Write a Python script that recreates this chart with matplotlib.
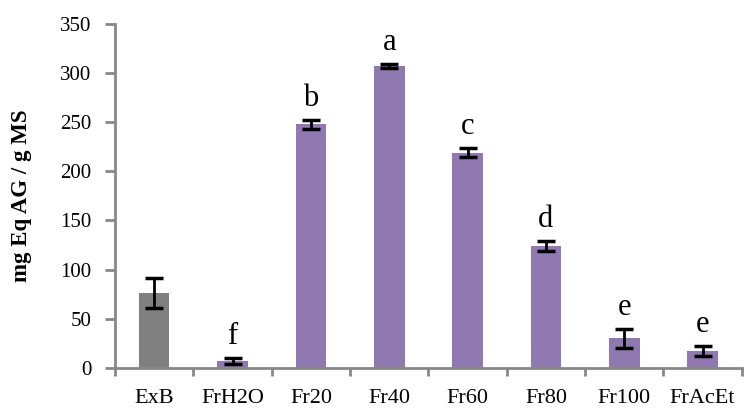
import matplotlib.pyplot as plt
import numpy as np

categories = ['ExB', 'FrH2O', 'Fr20', 'Fr40', 'Fr60', 'Fr80', 'Fr100', 'FrAcEt']
values = [76, 7, 248, 307, 219, 124, 30, 17]
errors = [15, 3, 4.5, 2, 4.5, 5.5, 10, 5]
letters = ['', 'f', 'b', 'a', 'c', 'd', 'e', 'e']
colors = ['#808080'] + ['#9078B0'] * 7

plt.rcParams['font.family'] = ['Liberation Serif', 'DejaVu Serif']

fig = plt.figure(figsize=(7.47, 4.12), dpi=100)
ax = fig.add_axes([0.154, 0.107, 0.839, 0.835])

pos = np.arange(len(categories))
ax.bar(pos, values, 0.39, color=colors, zorder=2)
ax.errorbar(pos, values, yerr=errors, fmt='none', ecolor='black',
            elinewidth=2, capsize=6.5, capthick=2.5, zorder=3)

for p, v, e, t in zip(pos, values, errors, letters):
    if t:
        ax.annotate(t, (p, v + e), xytext=(0, 10), textcoords='offset points',
                    ha='center', va='baseline', fontsize=22)

ax.set_xlim(-0.5, len(categories) - 0.5)
ax.set_ylim(0, 350)
ax.set_yticks(range(0, 351, 50))
ax.set_xticks(pos)
ax.set_xticklabels(categories)
ax.set_xticks(np.arange(-0.5, len(categories), 1), minor=True)
ax.tick_params(axis='x', which='major', length=0, pad=15, labelsize=16)
ax.tick_params(axis='x', which='minor', length=6, width=2, color='#888888')
ax.tick_params(axis='y', length=7, width=2, color='#888888', labelsize=15, pad=10)

for s in ['top', 'right']:
    ax.spines[s].set_visible(False)
for s in ['left', 'bottom']:
    ax.spines[s].set_color('#888888')
    ax.spines[s].set_linewidth(2)

ax.set_ylabel('mg Eq AG / g MS', fontsize=16.5, fontweight='bold', labelpad=20)

plt.savefig('out.png')
